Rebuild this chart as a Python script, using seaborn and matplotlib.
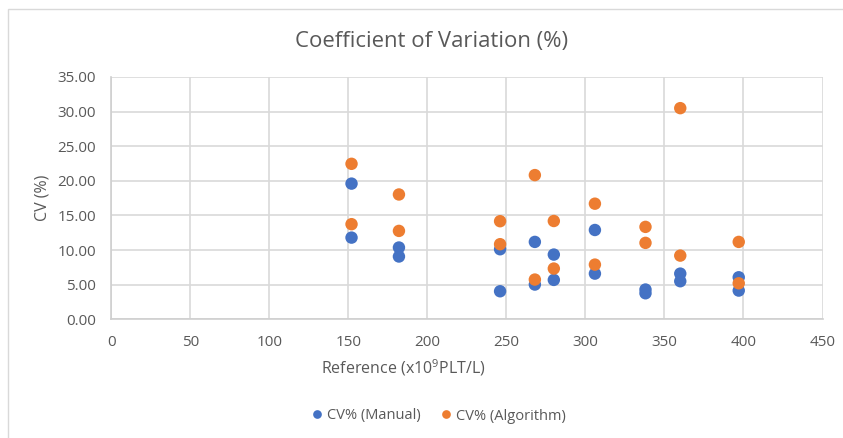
import matplotlib
matplotlib.use("Agg")
import matplotlib.pyplot as plt
import seaborn as sns
import pandas as pd
from matplotlib.ticker import FormatStrFormatter, MultipleLocator
from matplotlib.patches import Rectangle

reference = [152, 152, 182, 182, 246, 246, 268, 268, 280, 280,
             306, 306, 338, 338, 360, 360, 397, 397]
cv_manual = [19.6, 11.8, 10.37, 9.07, 10.12, 4.05, 11.18, 5.02, 9.35, 5.69,
             12.9, 6.6, 4.3, 3.76, 6.6, 5.5, 6.07, 4.15]
cv_algorithm = [22.46, 13.74, 18.03, 12.77, 14.17, 10.85, 20.83, 5.74, 14.2, 7.33,
                16.7, 7.9, 13.35, 11.04, 30.5, 9.2, 11.18, 5.2]
series_names = ["CV% (Manual)", "CV% (Algorithm)"]
colors = ["#4472C4", "#ED7D31"]

df = pd.concat([
    pd.DataFrame({"x": reference, "y": cv_manual, "series": series_names[0]}),
    pd.DataFrame({"x": reference, "y": cv_algorithm, "series": series_names[1]}),
])

sns.set_theme(style="white")
plt.rcParams["font.family"] = ["Open Sans", "DejaVu Sans"]
plt.rcParams["mathtext.default"] = "regular"
text_color = "#595959"

fig = plt.figure(figsize=(8.43, 4.38), dpi=100)
x0, x1, y0, y1 = 111.3, 822.5, 77, 319.3
ax = fig.add_axes([x0 / 843, 1 - y1 / 438, (x1 - x0) / 843, (y1 - y0) / 438])

sns.scatterplot(data=df, x="x", y="y", hue="series", palette=colors,
                s=80, linewidth=0, ax=ax, legend=True, zorder=3)

ax.set_xlim(0, 450)
ax.set_ylim(0, 35)
ax.xaxis.set_major_locator(MultipleLocator(50))
ax.yaxis.set_major_locator(MultipleLocator(5))
ax.yaxis.set_major_formatter(FormatStrFormatter("%.2f"))
ax.grid(True, color="#D9D9D9", linewidth=1.2, zorder=0)
ax.set_axisbelow(True)
for s in ["top", "right"]:
    ax.spines[s].set_visible(False)
for s in ["bottom", "left"]:
    ax.spines[s].set_color("#CFCFCF")
    ax.spines[s].set_linewidth(1.2)
ax.tick_params(length=0, labelsize=11, colors=text_color)
ax.tick_params(axis="y", pad=11)
ax.tick_params(axis="x", pad=11)

ax.set_xlabel("")
ax.set_ylabel("CV (%)", fontsize=11.5, color=text_color, labelpad=5)
fig.text(403 / 843, 1 - 368 / 438, "Reference (x10$^9$PLT/L)", ha="center", va="center",
         fontsize=11.5, color=text_color)
fig.text(431.5 / 843, 1 - 42 / 438, "Coefficient of Variation (%)", ha="center", va="center",
         fontsize=15.9, color=text_color)

handles, labels = ax.get_legend_handles_labels()
ax.legend(handles, labels, loc="center", bbox_to_anchor=(434 / 843, 1 - 416 / 438),
          bbox_transform=fig.transFigure, ncol=2, frameon=False, fontsize=10.5,
          handletextpad=-0.3, columnspacing=0.7, markerscale=0.7, labelcolor=text_color)
ax.get_legend().set_title(None)

fig.patches.append(Rectangle((8 / 843, -0.1), 1.0, 1.1 - 9 / 438, transform=fig.transFigure,
                             fill=False, edgecolor="#D9D9D9", linewidth=1))

fig.savefig("out.png", dpi=100)
